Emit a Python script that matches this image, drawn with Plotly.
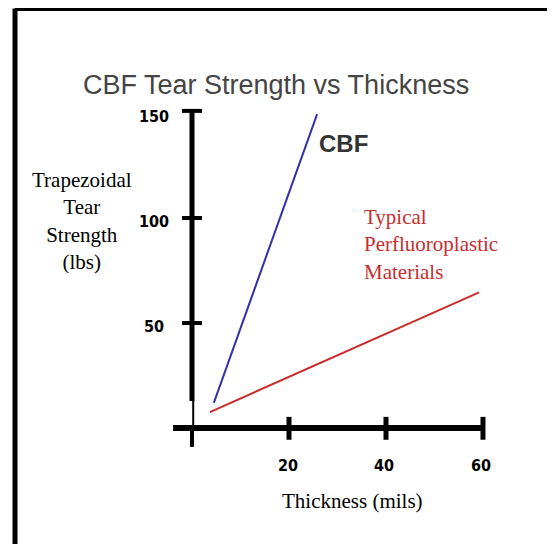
import plotly.graph_objects as go

# ---- data ----
title_text = "CBF Tear Strength vs Thickness"
x_title = "Thickness (mils)"
y_title_lines = ["Trapezoidal", "Tear", "Strength", "(lbs)"]

x_ticks = [20, 40, 60]
x_tick_labels = ["20", "40", "60"]
y_ticks = [50, 100, 150]
y_tick_labels = ["50", "100", "150"]

cbf_x = [4.5, 25.8]
cbf_y = [12, 149.5]
pfa_x = [3.7, 59.2]
pfa_y = [7.6, 64.6]

cbf_label = "CBF"
pfa_label_lines = ["Typical", "Perfluoroplastic", "Materials"]

# ---- figure ----
# the page body has an 8px margin, so the figure is laid out 8px up/left
W, H = 555, 544
ML, MR, MT, MB = 160, 56, 84, 102
X_RANGE = [-4.948, 64.95]
Y_RANGE = [-10.476, 160]

BLUE = "rgb(52,48,170)"
RED = "rgb(200,45,45)"
TICKFONT = dict(family="DejaVu Sans Condensed, Liberation Sans Narrow, sans-serif",
                size=16, color="black")
SERIF = "Liberation Serif, Times New Roman, serif"

fig = go.Figure()
fig.add_trace(go.Scatter(x=cbf_x, y=cbf_y, mode="lines",
                         line=dict(color=BLUE, width=2), hoverinfo="skip"))
fig.add_trace(go.Scatter(x=pfa_x, y=pfa_y, mode="lines",
                         line=dict(color=RED, width=2), hoverinfo="skip"))

shapes = []
# y axis: thick upper part, thin part near origin, thick stub below x axis
shapes.append(dict(type="line", xref="x", yref="y", x0=0, x1=0, y0=y_ticks[-1] + 1, y1=12.9,
                   line=dict(color="black", width=5)))
shapes.append(dict(type="line", xref="x", yref="y", x0=0.25, x1=0.25, y0=12.9, y1=0,
                   line=dict(color="black", width=2)))
shapes.append(dict(type="line", xref="x", yref="y", x0=0, x1=0, y0=0, y1=-9.0,
                   line=dict(color="black", width=4)))
# x axis
shapes.append(dict(type="line", xref="x", yref="y", x0=-3.9, x1=x_ticks[-1], y0=0, y1=0,
                   line=dict(color="black", width=6)))
# x ticks (crossing the axis)
for t in x_ticks:
    shapes.append(dict(type="line", xref="x", yref="y", x0=t, x1=t, y0=5.3, y1=-5.6,
                       line=dict(color="black", width=5)))
# y ticks (crossing the axis)
for t in y_ticks:
    yy = t + 1 if t == y_ticks[-1] else t
    shapes.append(dict(type="line", xref="x", yref="y", x0=-2.06, x1=2.06, y0=yy, y1=yy,
                       line=dict(color="black", width=4)))
# outer black frame (bottom edge is outside the picture)
shapes.append(dict(type="line", xref="paper", yref="paper", x0=-0.4513, x1=-0.4513,
                   y0=1.2332, y1=-0.35, line=dict(color="black", width=5)))
shapes.append(dict(type="line", xref="paper", yref="paper", x0=-0.4513, x1=1.16,
                   y0=1.2332, y1=1.2332, line=dict(color="black", width=5)))
shapes.append(dict(type="line", xref="paper", yref="paper", x0=1.1431, x1=1.1431,
                   y0=1.2332, y1=-0.35, line=dict(color="black", width=5)))

ann = []
for t, lab in zip(x_ticks, x_tick_labels):
    ann.append(dict(x=t, y=0, xref="x", yref="y", text="<b>" + lab + "</b>", showarrow=False,
                    xanchor="center", yanchor="middle", xshift=-1.5, yshift=-37,
                    font=TICKFONT))
for t, lab in zip(y_ticks, y_tick_labels):
    ann.append(dict(x=0, y=t, xref="x", yref="y", text="<b>" + lab + "</b>", showarrow=False,
                    xanchor="center", yanchor="middle", xshift=-38, yshift=-3,
                    font=TICKFONT))

ann.append(dict(x=0.3186, y=1.0196, xref="paper", yref="paper", text=title_text,
                showarrow=False, xanchor="center", yanchor="middle",
                font=dict(family="Liberation Sans, Arial, sans-serif", size=27, color="#444444")))
ann.append(dict(x=0.5457, y=-0.1425, xref="paper", yref="paper", text=x_title,
                showarrow=False, xanchor="center", yanchor="middle",
                font=dict(family=SERIF, size=21, color="black")))
ann.append(dict(x=-0.2537, y=0.6397, xref="paper", yref="paper",
                text="<br>".join(y_title_lines), showarrow=False, align="center",
                xanchor="center", yanchor="middle",
                font=dict(family=SERIF, size=21, color="black")))
ann.append(dict(x=cbf_x[-1], y=135.7, xref="x", yref="y", text="<b>" + cbf_label + "</b>",
                showarrow=False, xanchor="left", yanchor="middle",
                font=dict(family="Liberation Sans, Arial, sans-serif", size=24, color="#333333")))
ann.append(dict(x=35.05, y=87.6, xref="x", yref="y", text="<br>".join(pfa_label_lines),
                showarrow=False, xanchor="left", yanchor="middle", align="left",
                font=dict(family=SERIF, size=21, color=RED)))

fig.update_layout(
    width=W, height=H,
    margin=dict(l=ML, r=MR, t=MT, b=MB),
    paper_bgcolor="white", plot_bgcolor="white",
    showlegend=False,
    xaxis=dict(range=X_RANGE, visible=False, fixedrange=True),
    yaxis=dict(range=Y_RANGE, visible=False, fixedrange=True),
    shapes=shapes, annotations=ann,
)

fig.write_html("out.html", config={"displayModeBar": False})
